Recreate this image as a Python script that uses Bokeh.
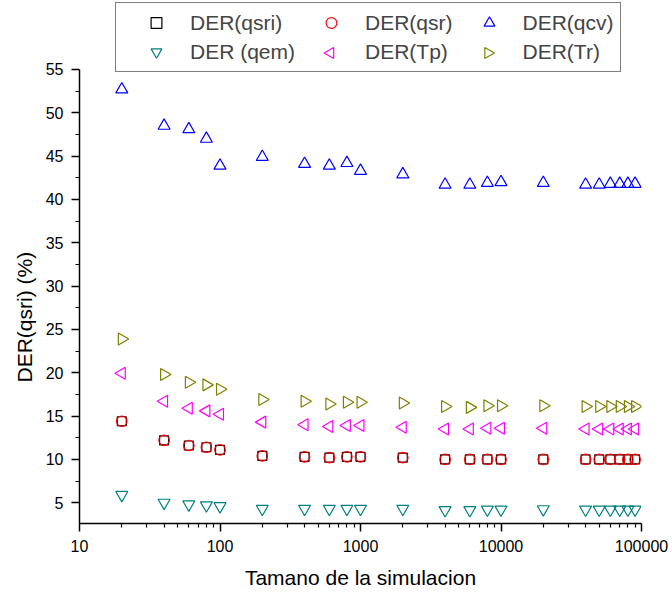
import math

from bokeh.plotting import figure
from bokeh.models import (Range1d, FixedTicker, NumeralTickFormatter, Legend,
                          LegendItem, Title)
from bokeh.embed import file_html
from bokeh.resources import INLINE

# Simulation sizes (x) and the DER of each estimator (%)
sizes = [20, 40, 60, 80, 100, 200, 400, 600, 800, 1000, 2000, 4000, 6000,
         8000, 10000, 20000, 40000, 50000, 60000, 70000, 80000, 90000]

der_qsri = [14.4, 12.2, 11.6, 11.4, 11.1, 10.4, 10.3, 10.2, 10.3, 10.3, 10.2,
            10.0, 10.0, 10.0, 10.0, 10.0, 10.0, 10.0, 10.0, 10.0, 10.0, 10.0]
der_qsr = [14.4, 12.2, 11.6, 11.4, 11.1, 10.4, 10.3, 10.2, 10.3, 10.3, 10.2,
           10.0, 10.0, 10.0, 10.0, 10.0, 10.0, 10.0, 10.0, 10.0, 10.0, 10.0]
der_qcv = [52.7, 48.5, 48.1, 47.0, 43.9, 44.9, 44.1, 43.9, 44.2, 43.3, 42.9,
           41.7, 41.7, 41.9, 42.0, 41.9, 41.7, 41.7, 41.8, 41.8, 41.8, 41.8]
der_qem = [5.9, 5.0, 4.8, 4.7, 4.6, 4.3, 4.3, 4.3, 4.3, 4.3, 4.3,
           4.15, 4.15, 4.2, 4.2, 4.25, 4.2, 4.2, 4.2, 4.2, 4.2, 4.2]
der_tp = [19.95, 16.7, 15.9, 15.6, 15.2, 14.3, 14.0, 13.8, 13.9, 13.9, 13.7,
          13.5, 13.5, 13.6, 13.6, 13.6, 13.5, 13.5, 13.5, 13.5, 13.5, 13.5]
der_tr = [23.9, 19.8, 18.9, 18.6, 18.1, 16.9, 16.7, 16.4, 16.6, 16.6, 16.5,
          16.1, 16.0, 16.2, 16.2, 16.2, 16.1, 16.1, 16.1, 16.1, 16.1, 16.1]

x_major = [10, 100, 1000, 10000, 100000]
x_minor = [m * d for d in (10, 100, 1000, 10000) for m in range(2, 10)]
y_major = [5, 10, 15, 20, 25, 30, 35, 40, 45, 50, 55]
y_minor = [7.5, 12.5, 17.5, 22.5, 27.5, 32.5, 37.5, 42.5, 47.5, 52.5]

FONT = "Liberation Sans"

# Frame geometry (pixels) and ranges
W, H = 672, 592
LEFT, RIGHT, TOP, BOTTOM = 79, 31, 0, 69
X0, X1 = 10, 100000
Y0, Y1 = 2.6, 62.96
FRAME_W = W - LEFT - RIGHT
FRAME_H = H - TOP - BOTTOM


def canvas_to_data(cx, cy):
    """Canvas pixel (from top-left) to data coordinates of this frame."""
    lx = math.log10(X0) + (cx - LEFT) / FRAME_W * (math.log10(X1) - math.log10(X0))
    y = Y0 + (H - BOTTOM - cy) / FRAME_H * (Y1 - Y0)
    return 10 ** lx, y


# The frame reaches the top of the canvas so the legend sits inside it;
# the y axis itself is bounded to 2.6 .. 55.
p = figure(width=W, height=H, x_axis_type="log",
           x_range=Range1d(X0, X1), y_range=Range1d(Y0, Y1),
           output_backend="svg", toolbar_location=None,
           min_border_left=LEFT, min_border_right=RIGHT,
           min_border_top=TOP, min_border_bottom=BOTTOM)
p.outline_line_color = None
p.xgrid.visible = False
p.ygrid.visible = False
p.background_fill_color = "white"
p.border_fill_color = "white"

p.xaxis.ticker = FixedTicker(ticks=x_major, minor_ticks=x_minor)
p.xaxis.formatter = NumeralTickFormatter(format="0")
p.yaxis.ticker = FixedTicker(ticks=y_major, minor_ticks=y_minor)
p.yaxis.bounds = (2.6, 55)

for ax in (p.xaxis[0], p.yaxis[0]):
    ax.axis_line_color = "black"
    ax.axis_line_width = 1.5
    ax.major_tick_line_color = "black"
    ax.major_tick_line_width = 1.5
    ax.minor_tick_line_color = "black"
    ax.minor_tick_line_width = 1.2
    ax.major_tick_in = 0
    ax.major_tick_out = 8
    ax.minor_tick_in = 0
    ax.minor_tick_out = 4
    ax.major_label_text_font = FONT
    ax.major_label_text_font_size = "16px"
    ax.major_label_text_color = "black"
    ax.major_label_standoff = 8

# x-axis title
p.xaxis.axis_label = "Tamano de la simulacion"
p.xaxis.axis_label_text_font = FONT
p.xaxis.axis_label_text_font_size = "21px"
p.xaxis.axis_label_text_font_style = "normal"
p.xaxis.axis_label_text_color = "black"
p.xaxis.axis_label_standoff = 11

common = dict(fill_color=None, line_width=1.2)
r_qsri = p.scatter(sizes, der_qsri, marker="square", size=9,
                   line_color="black", **common)
r_qsr = p.scatter(sizes, der_qsr, marker="circle", size=10.5,
                  line_color="#FF0000", **common)
r_qcv = p.scatter(sizes, der_qcv, marker="triangle", size=12,
                  line_color="#0000FF", **common)
r_qem = p.scatter(sizes, der_qem, marker="inverted_triangle", size=12,
                  line_color="#008080", **common)
r_tp = p.scatter(sizes, der_tp, marker="triangle", size=12, angle=math.pi / 2,
                 line_color="#FF00FF", **common)
r_tr = p.scatter(sizes, der_tr, marker="triangle", size=12, angle=-math.pi / 2,
                 line_color="#808000", **common)

# Legend (transparent box, so the rotated-triangle swatches drawn under it show)
legend = Legend(
    items=[
        LegendItem(label="DER(qsri)", renderers=[r_qsri]),
        LegendItem(label="DER(qsr)", renderers=[r_qsr]),
        LegendItem(label="DER(qcv)", renderers=[r_qcv]),
        LegendItem(label="DER (qem)", renderers=[r_qem]),
        LegendItem(label="DER(Tp)", renderers=[]),
        LegendItem(label="DER(Tr)", renderers=[]),
    ],
    location=(36, 451), orientation="horizontal", ncols=3,
    label_text_font=FONT, label_text_font_size="21px",
    glyph_width=68, glyph_height=27, label_standoff=0,
    label_height=27, spacing=2, padding=6,
    border_line_color="black", border_line_width=1,
    background_fill_alpha=0.0,
)
p.add_layout(legend, "center")

# Swatches for the left/right triangles in the second legend row
tp_x, sw_y = canvas_to_data(330, 52.5)
tr_x, _ = canvas_to_data(487.5, 52.5)
p.scatter([tp_x], [sw_y], marker="triangle", size=11, angle=math.pi / 2,
          line_color="#FF00FF", **common)
p.scatter([tr_x], [sw_y], marker="triangle", size=11, angle=-math.pi / 2,
          line_color="#808000", **common)

# y-axis title, placed in the left panel
p.add_layout(Title(text="DER(qsri) (%)", align="left", offset=141,
                   text_font=FONT, text_font_size="21px",
                   text_font_style="normal", text_color="black",
                   standoff=14), "left")

open("out.html", "w").write(file_html(p, INLINE))
